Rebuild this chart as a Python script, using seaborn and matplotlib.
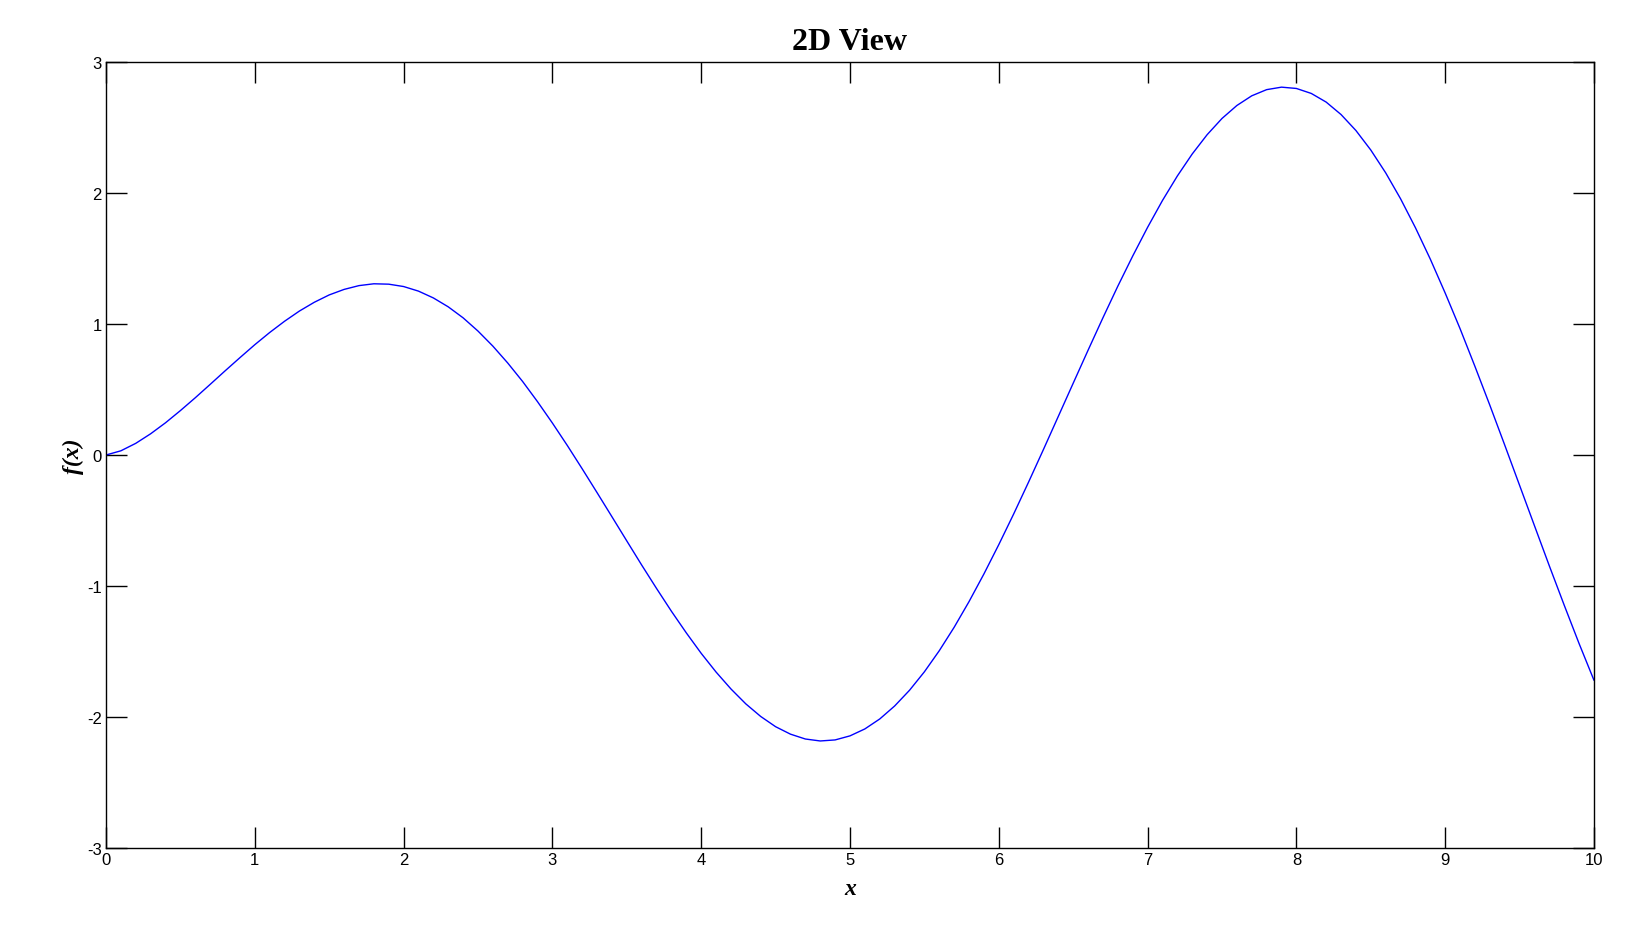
import matplotlib
matplotlib.use("Agg")
import matplotlib.pyplot as plt
import seaborn as sns
import pandas as pd

x_values = [round(i * 0.1, 1) for i in range(101)]  # sample positions read along the x axis
f_values = [0.000, 0.032, 0.089, 0.162, 0.246, 0.339, 0.437, 0.539, 0.642, 0.743,
            0.842, 0.935, 1.021, 1.099, 1.166, 1.222, 1.264, 1.293, 1.307, 1.304,
            1.286, 1.251, 1.199, 1.131, 1.047, 0.946, 0.831, 0.702, 0.561, 0.407,
            0.244, 0.073, -0.105, -0.287, -0.471, -0.656, -0.840, -1.019, -1.193, -1.358,
            -1.514, -1.657, -1.786, -1.900, -1.996, -2.074, -2.131, -2.168, -2.183, -2.175,
            -2.144, -2.091, -2.015, -1.916, -1.796, -1.655, -1.494, -1.315, -1.119, -0.908,
            -0.684, -0.450, -0.207, 0.042, 0.295, 0.548, 0.800, 1.048, 1.289, 1.519,
            1.738, 1.943, 2.130, 2.298, 2.445, 2.569, 2.668, 2.742, 2.789, 2.808,
            2.798, 2.760, 2.694, 2.599, 2.477, 2.328, 2.154, 1.956, 1.735, 1.495,
            1.236, 0.964, 0.676, 0.380, 0.076, -0.232, -0.540, -0.847, -1.147, -1.440,
            -1.720]
x_ticks = [0, 1, 2, 3, 4, 5, 6, 7, 8, 9, 10]
y_ticks = [-3, -2, -1, 0, 1, 2, 3]
title = "2D View"

df = pd.DataFrame({"x": x_values, "f": f_values})

sns.set_style("white")
W, H, DPI = 1632, 945, 100
fig = plt.figure(figsize=(W / DPI, H / DPI), dpi=DPI)
ax = fig.add_axes([106 / W, 1 - 849 / H, (1594 - 106) / W, (849 - 63) / H])

sns.lineplot(data=df, x="x", y="f", ax=ax, color="#0000ff", linewidth=1.0)

ax.set_xlim(0, 10)
ax.set_ylim(-3, 3)
ax.set_xticks(x_ticks)
ax.set_yticks(y_ticks)
ax.set_xticklabels([str(t) for t in x_ticks], family="Liberation Sans", fontsize=12, color="black")
ax.set_yticklabels([str(t) for t in y_ticks], family="Liberation Sans", fontsize=12, color="black")
ax.tick_params(direction="in", length=15, width=1, color="black", top=True, right=True,
               bottom=True, left=True, pad=3)
for s in ax.spines.values():
    s.set_visible(True)
    s.set_color("black")
    s.set_linewidth(1.0)

ax.set_title(title, family="Liberation Serif", fontweight="bold", fontsize=23, pad=9, color="black")
ax.set_xlabel("x", family="Liberation Serif", style="italic", fontweight="bold", fontsize=17,
              labelpad=8, color="black")
ax.set_ylabel("f(x)", family="Liberation Serif", style="italic", fontweight="bold", fontsize=17,
              labelpad=2, color="black")

fig.savefig("out.png", dpi=DPI, facecolor="white")
